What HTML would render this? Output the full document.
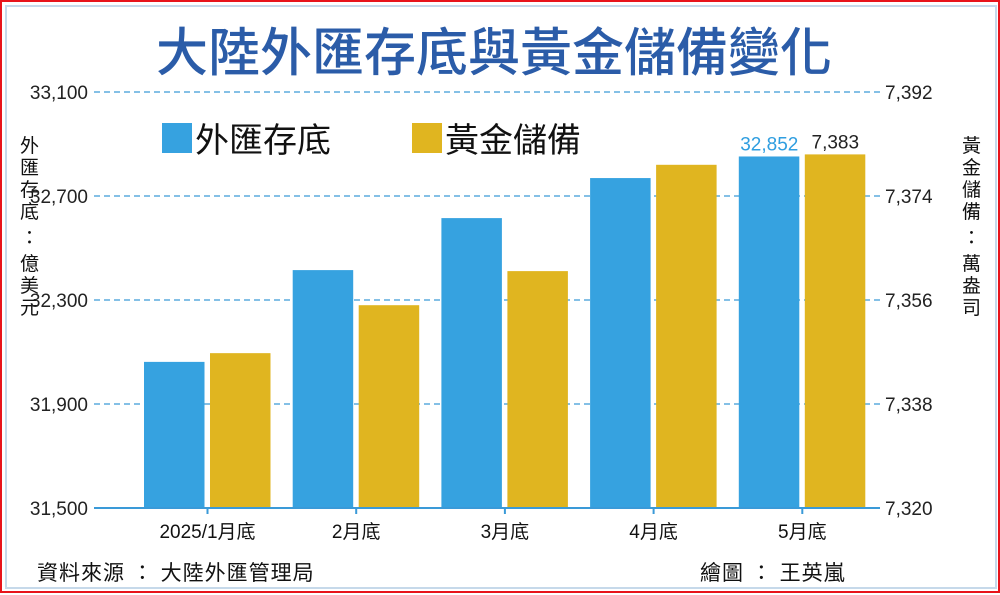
<!DOCTYPE html>
<html><head><meta charset="utf-8">
<style>
body{margin:0;background:#fff;}
#wrap{position:relative;width:1000px;height:593px;box-sizing:border-box;border:2px solid #e8141b;background:#fff;font-family:"Liberation Sans","Noto Sans CJK TC",sans-serif;}
#inner{position:absolute;left:3px;top:3px;width:988px;height:580px;border:2px solid #c6d9ea;}
svg{position:absolute;left:0;top:0;}
</style></head>
<body>
<div id="wrap">
<div id="inner"></div>
<svg id="chart" width="1000" height="593">
<text x="492" y="69" text-anchor="middle" font-size="52" font-weight="500" fill="#2b5ca8" font-family="Liberation Sans,Noto Sans CJK TC,sans-serif">大陸外匯存底與黃金儲備變化</text>
<g>
<rect x="160" y="121" width="30" height="30" fill="#36a2e0"/>
<text x="193" y="150" font-size="34" fill="#111" font-family="Liberation Sans,Noto Sans CJK TC,sans-serif">外匯存底</text>
<rect x="410" y="121" width="30" height="30" fill="#e0b520"/>
<text x="443" y="150" font-size="34" fill="#111" font-family="Liberation Sans,Noto Sans CJK TC,sans-serif">黃金儲備</text>
</g>
<text font-size="19" fill="#111" font-family="Liberation Sans,Noto Sans CJK TC,sans-serif"><tspan x="18" y="150">外</tspan><tspan x="18" y="172">匯</tspan><tspan x="18" y="194">存</tspan><tspan x="18" y="216">底</tspan><tspan x="18" y="242">：</tspan><tspan x="18" y="268">億</tspan><tspan x="18" y="290">美</tspan><tspan x="18" y="312">元</tspan></text>
<text font-size="19" fill="#111" font-family="Liberation Sans,Noto Sans CJK TC,sans-serif"><tspan x="960" y="150">黃</tspan><tspan x="960" y="172">金</tspan><tspan x="960" y="194">儲</tspan><tspan x="960" y="216">備</tspan><tspan x="960" y="242">：</tspan><tspan x="960" y="268">萬</tspan><tspan x="960" y="290">盎</tspan><tspan x="960" y="312">司</tspan></text>
<text x="35" y="578" font-size="21" fill="#111" letter-spacing="1" font-family="Liberation Sans,Noto Sans CJK TC,sans-serif">資料來源 ： 大陸外匯管理局</text>
<text x="698" y="578" font-size="21" fill="#111" letter-spacing="1" font-family="Liberation Sans,Noto Sans CJK TC,sans-serif">繪圖 ： 王英嵐</text>
<g id="plot"></g>
</svg>
</div>
<script>
const categories = ["2025/1月底","2月底","3月底","4月底","5月底"];
const forexValues = [32062, 32415, 32615, 32769, 32852];
const goldValues = [7346.8, 7355.1, 7361.0, 7379.4, 7381.2];
const leftTicks = [31500, 31900, 32300, 32700, 33100];
const rightTicks = [7320, 7338, 7356, 7374, 7392];
const forexLabels = ["", "", "", "", "32,852"];
const goldLabels = ["", "", "", "", "7,383"];

const NS = "http://www.w3.org/2000/svg";
const plot = document.getElementById("plot");
const plotTop = 90, plotBottom = 506, x0 = 92, x1 = 878;
const yL = v => plotBottom - (v - 31500) / (33100 - 31500) * (plotBottom - plotTop);
const yR = v => plotBottom - (v - 7320) / (7392 - 7320) * (plotBottom - plotTop);
const groupW = 148.7, firstCenter = 205.5;
const xC = i => firstCenter + i * groupW;
function mk(tag, attrs){const e=document.createElementNS(NS,tag);for(const k in attrs)e.setAttribute(k,attrs[k]);plot.appendChild(e);return e;}
const ff = "Liberation Sans,Noto Sans CJK TC,sans-serif";

leftTicks.forEach((t,i)=>{
  const y=yL(t);
  if(i>0){const g=mk("line",{x1:x0,x2:x1,y1:y,y2:y,stroke:"#3a9ad8","stroke-width":1.3,"stroke-dasharray":"6,4"});
  
  }
  const tx=mk("text",{x:86,y:y+7,"text-anchor":"end","font-size":19,fill:"#222","font-family":ff});
  tx.textContent=t.toLocaleString("en-US");
  
  
});
rightTicks.forEach(t=>{
  const y=yR(t);
  const tx=mk("text",{x:883,y:y+7,"font-size":19,fill:"#222","font-family":ff});
  tx.textContent=t.toLocaleString("en-US");
  
  
});
categories.forEach((c,i)=>{
  const cx=xC(i);
  const fy=yL(forexValues[i]);
  const b=mk("rect",{x:cx-63.5,y:fy,width:60.5,height:plotBottom-fy,fill:"#36a2e0"});
  
  
  const gy=yR(goldValues[i]);
  const g=mk("rect",{x:cx+2.5,y:gy,width:60.5,height:plotBottom-gy,fill:"#e0b520"});
  
  
  if(forexLabels[i]){const t=mk("text",{x:cx-33,y:fy-6,"text-anchor":"middle","font-size":19,fill:"#2f9ee0","font-family":ff});t.textContent=forexLabels[i];
  
  }
  if(goldLabels[i]){const t=mk("text",{x:cx+33,y:gy-6,"text-anchor":"middle","font-size":19,fill:"#222","font-family":ff});t.textContent=goldLabels[i];
  
  }
  const tk=mk("line",{x1:cx,x2:cx,y1:plotBottom,y2:plotBottom+6,stroke:"#3a9ad8","stroke-width":2});
  
  
  const lb=mk("text",{x:cx,y:536,"text-anchor":"middle","font-size":19,fill:"#111","font-family":ff});
  lb.textContent=c;
  
  
});
const ax=mk("line",{x1:x0,x2:x1,y1:plotBottom,y2:plotBottom,stroke:"#3a9ad8","stroke-width":2});


</script>
</body></html>
